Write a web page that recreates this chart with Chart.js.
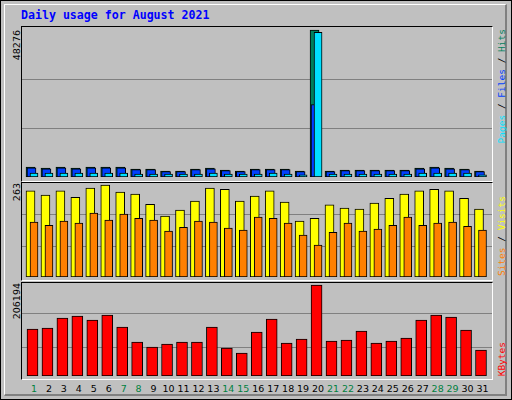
<!DOCTYPE html>
<html><head><meta charset="utf-8">
<script src="https://cdn.jsdelivr.net/npm/chart.js@4"></script>
<style>
html,body{margin:0;padding:0;background:#c0c0c0;}
#wrap{position:absolute;left:0;top:0;width:510px;height:398px;border:1px solid #000;background:#c0c0c0;overflow:hidden;}
#bev{position:absolute;left:3px;top:3px;width:500px;height:389px;border-top:1px solid #fff;border-left:1px solid #fff;border-right:2px solid #808080;border-bottom:2px solid #808080;}
.panel{position:absolute;border-top:1px solid #000;border-left:1px solid #000;border-right:1px solid #fff;border-bottom:1px solid #fff;box-sizing:border-box;}
canvas{position:absolute;}
.t{position:absolute;white-space:nowrap;}
.v{position:absolute;writing-mode:vertical-rl;transform:rotate(180deg);white-space:nowrap;line-height:10px;}
</style></head><body>
<div id="wrap"><div id="bev"></div>
<div class="t" style="left:20px;top:7px;font:bold 11.6px 'DejaVu Sans Mono';color:#0000ff;">Daily usage for August 2021</div>
<div class="panel" style="left:20px;top:25px;width:472px;height:156px;"></div>
<div class="panel" style="left:20px;top:181px;width:472px;height:99px;"></div>
<div class="panel" style="left:20px;top:281px;width:472px;height:98px;"></div>
<canvas id="c1" width="470" height="151" style="left:21px;top:25px;width:470px;height:151px;"></canvas>
<canvas id="c2" width="470" height="95" style="left:21px;top:181px;width:470px;height:95px;"></canvas>
<canvas id="c3" width="470" height="94" style="left:21px;top:281px;width:470px;height:94px;"></canvas>
<div class="v" style="left:10px;top:29px;font:9.5px 'DejaVu Sans';">48276</div>
<div class="v" style="left:10px;top:182px;font:9.5px 'DejaVu Sans';">263</div>
<div class="v" style="left:10px;top:282px;font:9.5px 'DejaVu Sans';">206194</div>
<div class="v" style="left:495px;top:28px;font:9.5px 'DejaVu Sans Mono';"><span style="color:#00e0ff">Pages</span><span style="color:#000"> / </span><span style="color:#0040ff">Files</span><span style="color:#000"> / </span><span style="color:#00805c">Hits</span></div>
<div class="v" style="left:495px;bottom:123px;font:9.5px 'DejaVu Sans Mono';"><span style="color:#ff8000">Sites</span><span style="color:#000"> / </span><span style="color:#ffff00">Visits</span></div>
<div class="v" style="left:495px;bottom:23px;font:9.5px 'DejaVu Sans Mono';color:#ff0000">KBytes</div>
<div id="xl"></div>
</div>
<script>
const days=[1,2,3,4,5,6,7,8,9,10,11,12,13,14,15,16,17,18,19,20,21,22,23,24,25,26,27,28,29,30,31];
const weekend=[1,7,8,14,15,21,22,28,29];
const hits=[3280,2950,3280,2950,3280,3280,3280,2620,2620,1970,1970,2620,2950,2300,1970,2620,2620,2620,1970,48276,1970,2300,2300,2300,2300,2300,2950,3280,2950,2620,1970];
const files=[3000,2700,3000,2700,3000,3000,3000,2400,2400,1800,1800,2400,2700,2100,1800,2400,2400,2400,1800,23800,1800,2100,2100,2100,2100,2100,2700,3000,2700,2400,1800];
const pages=[1300,1300,1300,1300,1300,1300,1300,1000,1000,1000,1000,1000,1300,1000,1000,1000,1300,1000,700,47500,1000,1000,1000,1000,1000,1000,1300,1300,1300,1300,700];
const visits=[246,234,246,228,254,263,243,237,208,174,191,217,254,251,217,231,246,214,160,168,206,197,194,211,225,237,246,251,246,225,194];
const sites=[157,148,160,154,183,163,180,168,163,131,142,160,157,140,134,171,168,154,120,91,128,154,131,137,148,171,148,154,157,145,134];
const kbytes=[106500,108700,131400,135900,126800,138200,111000,77000,65700,72500,77000,77000,111000,63400,52100,99700,129100,74700,83800,206194,79300,81500,101900,74700,79300,86100,126800,138200,133700,104200,59000];

const PPD=14.95, X0=33-21;
const xmin=1-X0/PPD, xmax=xmin+470/PPD;
function ds(vals,color,offPx,w,ord){
  return {data:vals.map((v,i)=>({x:days[i]+offPx/PPD,y:v})),backgroundColor:color,borderColor:'#000',borderWidth:1,barThickness:w,grouped:false,borderSkipped:false,order:ord};
}
function mk(id,sets,ymax,grid){
  new Chart(document.getElementById(id),{type:'bar',data:{datasets:sets},
    options:{animation:false,responsive:false,devicePixelRatio:1,
      layout:{padding:0},
      plugins:{legend:{display:false},tooltip:{enabled:false}},
      scales:{
        x:{type:'linear',min:xmin,max:xmax,offset:false,display:false},
        y:{min:0,max:ymax,afterFit:s=>{s.width=0;},afterBuildTicks:s=>{s.ticks=grid.map(v=>({value:v}));},
           ticks:{display:false},border:{display:false},grid:{color:'#808080',lineWidth:1,drawTicks:false}}
      }}});
}
mk('c1',[ds(hits,'#00805c',-3.5,9,2),ds(files,'#0040ff',-2.5,9,1),ds(pages,'#00e0ff',0,8,0)],49590,[16092,32184]);
mk('c2',[ds(visits,'#ffff00',-3.5,9,1),ds(sites,'#ff8000',0,8,0)],271.6,[86,180]);
mk('c3',[ds(kbytes,'#ff0000',-1.5,11,0)],213000,[65700,140500]);
const xl=document.getElementById('xl');
days.forEach(d=>{
  const e=document.createElement('div');e.className='t';e.textContent=d;
  e.style.cssText=`left:${33+PPD*(d-1)-10}px;width:20px;text-align:center;top:382px;font:9.5px 'DejaVu Sans';color:${weekend.includes(d)?'#008040':'#000'}`;
  xl.appendChild(e);
});
</script></body></html>
